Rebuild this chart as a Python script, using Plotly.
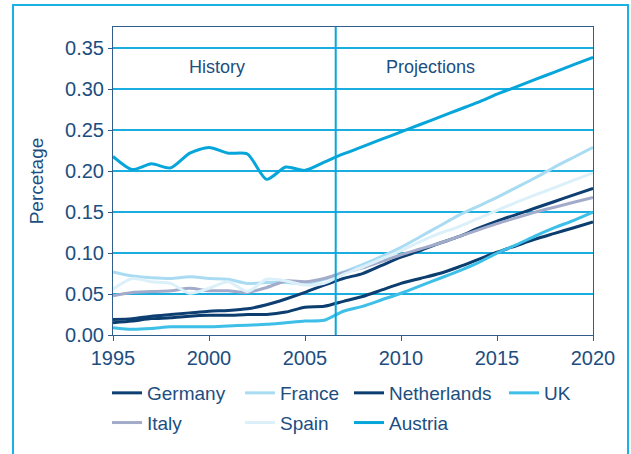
import plotly.graph_objects as go

years = list(range(1995, 2021))

germany = [0.019, 0.020, 0.023, 0.025, 0.027, 0.029, 0.030, 0.032, 0.037, 0.044, 0.052, 0.061, 0.069,
           0.075, 0.085, 0.095, 0.103, 0.112, 0.120, 0.130, 0.139, 0.147, 0.155, 0.163, 0.171, 0.179]
france = [0.077, 0.072, 0.070, 0.069, 0.071, 0.069, 0.068, 0.063, 0.064, 0.064, 0.063, 0.068, 0.077,
          0.086, 0.096, 0.107, 0.120, 0.133, 0.146, 0.157, 0.168, 0.180, 0.192, 0.205, 0.217, 0.229]
netherlands = [0.015, 0.017, 0.020, 0.021, 0.023, 0.024, 0.024, 0.025, 0.025, 0.028, 0.034, 0.035, 0.041,
               0.047, 0.055, 0.063, 0.069, 0.075, 0.083, 0.092, 0.101, 0.109, 0.117, 0.124, 0.131, 0.138]
uk = [0.009, 0.007, 0.008, 0.010, 0.010, 0.010, 0.011, 0.012, 0.013, 0.015, 0.017, 0.018, 0.029,
      0.035, 0.043, 0.051, 0.060, 0.069, 0.078, 0.088, 0.100, 0.110, 0.121, 0.131, 0.140, 0.150]
italy = [0.048, 0.052, 0.053, 0.054, 0.057, 0.054, 0.054, 0.052, 0.058, 0.066, 0.065, 0.069, 0.076,
         0.082, 0.090, 0.098, 0.105, 0.112, 0.120, 0.128, 0.136, 0.143, 0.150, 0.156, 0.162, 0.168]
spain = [0.056, 0.069, 0.065, 0.063, 0.051, 0.057, 0.065, 0.053, 0.068, 0.066, 0.061, 0.063, 0.074,
         0.083, 0.093, 0.103, 0.114, 0.124, 0.132, 0.142, 0.152, 0.162, 0.171, 0.180, 0.189, 0.198]
austria = [0.218, 0.202, 0.209, 0.204, 0.222, 0.229, 0.222, 0.221, 0.190, 0.205, 0.201, 0.211, 0.221,
           0.230, 0.239, 0.248, 0.257, 0.266, 0.275, 0.284, 0.294, 0.303, 0.312, 0.321, 0.330, 0.339]

split_year = 2006.6
y_ticks = [0.00, 0.05, 0.10, 0.15, 0.20, 0.25, 0.30, 0.35]
x_ticks = [1995, 2000, 2005, 2010, 2015, 2020]

TEXT = "#1c4e80"
GRID = "#1aaee0"
AXIS = "#2f5d8c"
FONT = "Liberation Sans, Arial, sans-serif"

series = [
    ("Germany", germany, "#0d3f73", "legend"),
    ("France", france, "#a9dcf3", "legend2"),
    ("Netherlands", netherlands, "#0b3d6e", "legend3"),
    ("UK", uk, "#3dbfe8", "legend4"),
    ("Italy", italy, "#a2abca", "legend"),
    ("Spain", spain, "#dcf0fa", "legend2"),
    ("Austria", austria, "#06a5da", "legend3"),
]

fig = go.Figure()
for name, vals, color, lg in series:
    fig.add_trace(go.Scatter(
        x=years, y=vals, name=name, mode="lines",
        line=dict(color=color, width=3, shape="spline", smoothing=0.7),
        legend=lg, legendgroup=name,
    ))

fig.add_shape(type="line", x0=split_year, x1=split_year, y0=0, y1=1,
              xref="x", yref="paper", line=dict(color="#0aa5dc", width=2))

# outer frame
fig.add_shape(type="rect", xref="paper", yref="paper",
              x0=(13 - 113) / 480, x1=(628 - 113) / 480,
              y0=(335 - 470) / 308, y1=(335 - 5) / 308,
              line=dict(color="#1ab2e4", width=2), layer="below")

fig.add_annotation(x=2000.4, y=0.3276, text="History", showarrow=False,
                   font=dict(size=18, color=TEXT, family=FONT))
fig.add_annotation(x=2011.56, y=0.3276, text="Projections", showarrow=False,
                   font=dict(size=18, color=TEXT, family=FONT))

leg_common = dict(orientation="v", xanchor="left", yanchor="top", yref="paper", xref="paper",
                  font=dict(size=19, color=TEXT, family=FONT), bgcolor="rgba(0,0,0,0)",
                  tracegroupgap=2, itemclick=False, itemdoubleclick=False)
lx = [107, 240, 349, 504]
ly = 374
fig.update_layout(
    legend=dict(x=(lx[0] - 113) / 480, y=(335 - ly) / 308, **leg_common),
    legend2=dict(x=(lx[1] - 113) / 480, y=(335 - ly) / 308, **leg_common),
    legend3=dict(x=(lx[2] - 113) / 480, y=(335 - ly) / 308, **leg_common),
    legend4=dict(x=(lx[3] - 113) / 480, y=(335 - ly) / 308, **leg_common),
)

fig.update_layout(
    width=631, height=454,
    margin=dict(l=113, r=38, t=27, b=119),
    paper_bgcolor="white", plot_bgcolor="white",
    font=dict(family=FONT, color=TEXT, size=19),
    showlegend=True,
)
fig.update_xaxes(range=[1995, 2020], tickvals=x_ticks, ticktext=[str(v) for v in x_ticks],
                 showgrid=False, zeroline=False, showline=True, mirror=True,
                 linecolor=AXIS, linewidth=1, ticks="outside", ticklen=5, tickcolor=AXIS,
                 tickfont=dict(size=20, color=TEXT, family=FONT))
fig.update_yaxes(range=[0, 0.376], tickvals=y_ticks, ticktext=[f"{v:.2f}" for v in y_ticks],
                 showgrid=True, gridcolor=GRID, gridwidth=1.5, zeroline=False,
                 showline=True, mirror=True, linecolor=AXIS, linewidth=1,
                 ticks="outside", ticklen=4, tickcolor=AXIS,
                 tickfont=dict(size=20, color=TEXT, family=FONT),
                 title=dict(text="Percetage", font=dict(size=19, color=TEXT, family=FONT), standoff=16))

fig.write_html("out.html", config={"displayModeBar": False},
               post_script="document.body.style.margin='0';document.body.style.overflow='hidden';")
